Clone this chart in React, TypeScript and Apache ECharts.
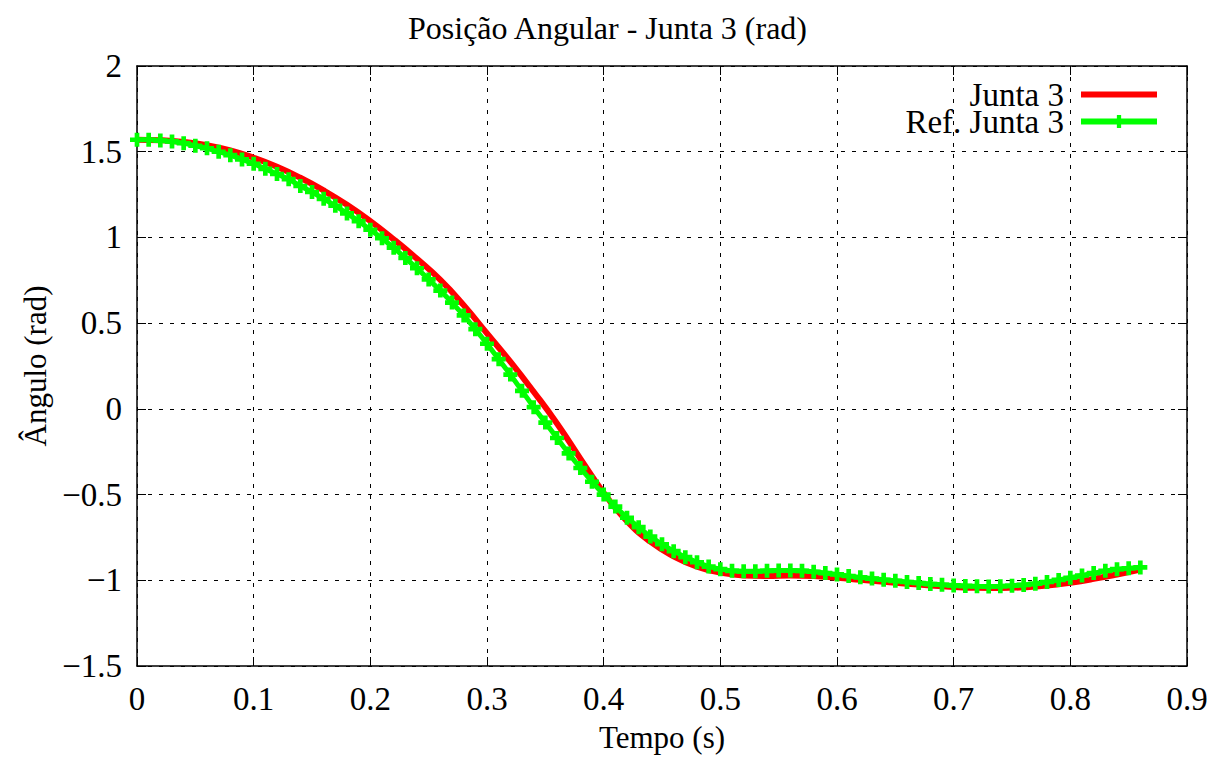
import React, { useEffect, useRef } from "react";
import * as echarts from "echarts";

const title = "Posição Angular - Junta 3 (rad)";
const xName = "Tempo (s)";
const yName = "Ângulo (rad)";
const seriesNames = ["Junta 3", "Ref. Junta 3"];

// Junta 3 (red), sampled every 0.02 s
const redTime = [0, 0.02, 0.04, 0.06, 0.08, 0.1, 0.12, 0.14, 0.16, 0.18, 0.2, 0.22, 0.24, 0.26, 0.28, 0.3, 0.32, 0.34, 0.36, 0.38, 0.4, 0.42, 0.44, 0.46, 0.48, 0.5, 0.52, 0.54, 0.56, 0.58, 0.6, 0.62, 0.64, 0.66, 0.68, 0.7, 0.72, 0.74, 0.76, 0.78, 0.8, 0.82, 0.84, 0.86];
const redValues = [1.57, 1.567, 1.557, 1.538, 1.508, 1.465, 1.412, 1.348, 1.274, 1.19, 1.095, 0.989, 0.875, 0.752, 0.605, 0.44, 0.275, 0.1, -0.085, -0.29, -0.49, -0.655, -0.775, -0.86, -0.92, -0.955, -0.972, -0.975, -0.972, -0.975, -0.985, -0.997, -1.009, -1.02, -1.03, -1.039, -1.044, -1.045, -1.041, -1.031, -1.014, -0.992, -0.966, -0.937];

// Ref. Junta 3 (green), sampled every 0.01 s
const refTime = [0, 0.01, 0.02, 0.03, 0.04, 0.05, 0.06, 0.07, 0.08, 0.09, 0.1, 0.11, 0.12, 0.13, 0.14, 0.15, 0.16, 0.17, 0.18, 0.19, 0.2, 0.21, 0.22, 0.23, 0.24, 0.25, 0.26, 0.27, 0.28, 0.29, 0.3, 0.31, 0.32, 0.33, 0.34, 0.35, 0.36, 0.37, 0.38, 0.39, 0.4, 0.41, 0.42, 0.43, 0.44, 0.45, 0.46, 0.47, 0.48, 0.49, 0.5, 0.51, 0.52, 0.53, 0.54, 0.55, 0.56, 0.57, 0.58, 0.59, 0.6, 0.61, 0.62, 0.63, 0.64, 0.65, 0.66, 0.67, 0.68, 0.69, 0.7, 0.71, 0.72, 0.73, 0.74, 0.75, 0.76, 0.77, 0.78, 0.79, 0.8, 0.81, 0.82, 0.83, 0.84, 0.85, 0.86];
const refValues = [1.57, 1.57, 1.565, 1.56, 1.55, 1.535, 1.52, 1.5, 1.48, 1.455, 1.43, 1.4, 1.37, 1.34, 1.3, 1.265, 1.225, 1.185, 1.14, 1.095, 1.045, 0.995, 0.94, 0.88, 0.82, 0.755, 0.69, 0.62, 0.545, 0.465, 0.38, 0.29, 0.2, 0.105, 0.01, -0.08, -0.17, -0.26, -0.345, -0.425, -0.5, -0.57, -0.635, -0.69, -0.745, -0.79, -0.83, -0.865, -0.895, -0.92, -0.935, -0.945, -0.948, -0.948, -0.945, -0.943, -0.943, -0.945, -0.95, -0.958, -0.966, -0.975, -0.983, -0.99, -0.997, -1.003, -1.01, -1.016, -1.022, -1.026, -1.03, -1.033, -1.035, -1.036, -1.035, -1.032, -1.027, -1.02, -1.01, -0.998, -0.985, -0.972, -0.958, -0.945, -0.935, -0.93, -0.925];

const FONT = "Liberation Serif";
const PLUS = "path://M4,0H8V4H12V8H8V12H4V8H0V4H4Z";

export default function App() {
  const ref = useRef<HTMLDivElement>(null);
  useEffect(() => {
    if (!ref.current) return;
    const chart = echarts.init(ref.current, undefined, { renderer: "svg" });
    const fmt = (v: number) => {
      const s = String(Math.round(v * 10) / 10);
      return s.replace("-", "\u2212");
    };
    const splitLine = { show: true, lineStyle: { color: "#000", width: 1, type: [4, 7] as any } };
    const axisLine = { show: true, onZero: false, lineStyle: { color: "#000", width: 1.5 } };
    const tick = { show: true, inside: true, length: 9, lineStyle: { color: "#000", width: 1 } };
    chart.setOption({
      animation: false,
      backgroundColor: "#fff",
      title: {
        text: title,
        left: "center",
        top: 7,
        textStyle: { fontFamily: FONT, fontSize: 32, fontWeight: "normal", color: "#000" },
      },
      legend: {
        right: 50,
        top: 73,
        orient: "vertical",
        align: "right",
        itemWidth: 76,
        itemHeight: 16,
        itemGap: -6,
        textStyle: { fontFamily: FONT, fontSize: 33, color: "#000", padding: [0, 12, 0, 0] },
        data: [
          { name: seriesNames[0], itemStyle: { opacity: 0 }, lineStyle: { width: 6, color: "#ff0000" } },
          { name: seriesNames[1], lineStyle: { width: 6, color: "#00ff00" } },
        ],
      },
      grid: { left: 137, right: 28, top: 66, bottom: 90, containLabel: false },
      xAxis: [
        {
          type: "value",
          min: 0,
          max: 0.9,
          interval: 0.1,
          name: xName,
          nameLocation: "middle",
          nameGap: 56,
          nameTextStyle: { fontFamily: FONT, fontSize: 31, color: "#000" },
          axisLine,
          axisTick: tick,
          splitLine,
          axisLabel: { formatter: fmt, fontFamily: FONT, fontSize: 33, color: "#000", margin: 16 },
        },
        {
          type: "value",
          position: "top",
          min: 0,
          max: 0.9,
          interval: 0.1,
          axisLine,
          axisTick: tick,
          splitLine: { show: false },
          axisLabel: { show: false },
        },
      ],
      yAxis: [
        {
          type: "value",
          min: -1.5,
          max: 2,
          interval: 0.5,
          name: yName,
          nameLocation: "middle",
          nameGap: 86,
          nameTextStyle: { fontFamily: FONT, fontSize: 31, color: "#000" },
          axisLine,
          axisTick: tick,
          splitLine,
          axisLabel: { formatter: fmt, fontFamily: FONT, fontSize: 33, color: "#000", margin: 15 },
        },
        {
          type: "value",
          position: "right",
          min: -1.5,
          max: 2,
          interval: 0.5,
          axisLine,
          axisTick: tick,
          splitLine: { show: false },
          axisLabel: { show: false },
        },
      ],
      series: [
        {
          name: seriesNames[0],
          type: "line",
          xAxisIndex: 0,
          yAxisIndex: 0,
          data: redTime.map((t, i) => [t, redValues[i]]),
          smooth: true,
          symbol: "none",
          itemStyle: { color: "#ff0000" },
          lineStyle: { color: "#ff0000", width: 6 },
          z: 2,
        },
        {
          name: seriesNames[1],
          type: "line",
          xAxisIndex: 0,
          yAxisIndex: 0,
          data: refTime.map((t, i) => [t, refValues[i]]),
          symbol: PLUS,
          symbolSize: 14,
          showAllSymbol: true,
          itemStyle: { color: "#00ff00" },
          lineStyle: { color: "#00ff00", width: 5 },
          z: 3,
        },
      ],
    });
    return () => chart.dispose();
  }, []);
  return <div ref={ref} style={{ width: 1215, height: 758, position: "absolute", left: 0, top: 0 }} />;
}
